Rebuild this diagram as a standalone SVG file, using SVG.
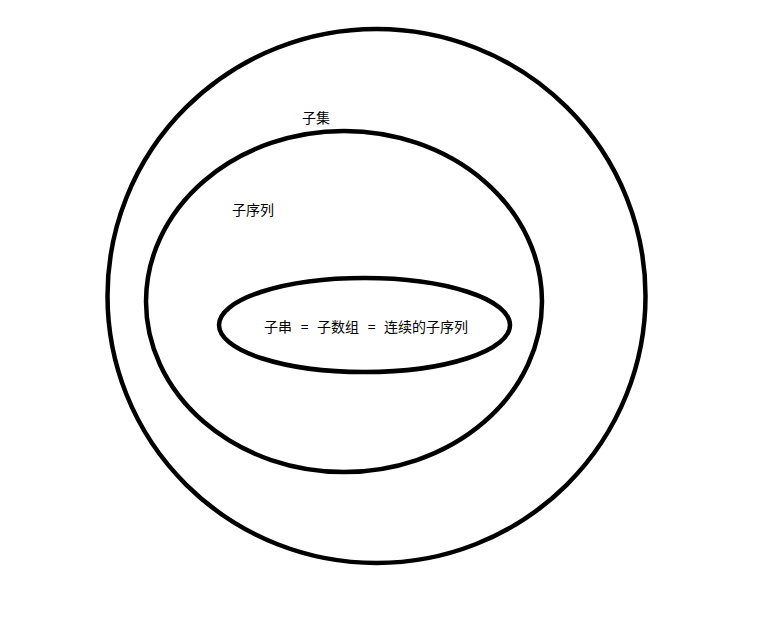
<svg xmlns="http://www.w3.org/2000/svg" width="759" height="643" viewBox="0 0 759 643">
<style>
.e{fill:none;stroke:#000;stroke-width:4.5}
.t{font-family:"Microsoft YaHei","Noto Sans CJK SC","Noto Sans",sans-serif;font-size:14px;fill:#000}
</style>
<rect width="759" height="643" fill="#fff"/>
<g id="subset"><ellipse class="e" cx="376.5" cy="296" rx="269" ry="267"/><text class="t" x="302" y="123">子集</text></g>
<g id="subsequence"><ellipse class="e" cx="344" cy="301.5" rx="198" ry="170.5"/><text class="t" x="232" y="215">子序列</text></g>
<g id="substring"><ellipse class="e" cx="364.5" cy="325" rx="145.5" ry="47"/><text class="t" x="264" y="332" word-spacing="5.5">子串 = 子数组 = 连续的子序列</text></g>
<g id="connectors"></g>
</svg>
